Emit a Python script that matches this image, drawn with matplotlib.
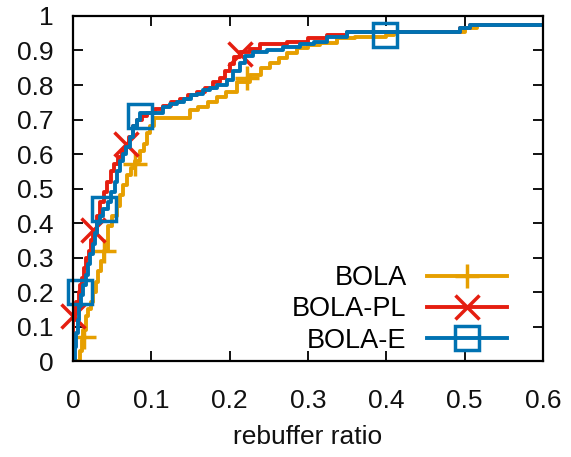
import matplotlib.pyplot as plt
from matplotlib.lines import Line2D

plt.rcParams['font.family'] = ['Liberation Sans', 'DejaVu Sans']

# CDF step breakpoints
bola_x = [0.006, 0.009, 0.011, 0.013, 0.016, 0.019, 0.023, 0.026, 0.029, 0.032, 0.036, 0.040,
          0.045, 0.050, 0.056, 0.060, 0.064, 0.069, 0.074, 0.079, 0.085, 0.090, 0.094, 0.098,
          0.103, 0.149, 0.160, 0.172, 0.184, 0.195, 0.209, 0.226, 0.240, 0.252, 0.263, 0.273,
          0.286, 0.300, 0.315, 0.337, 0.360, 0.400, 0.410, 0.500, 0.516, 0.600]
bola_y = [0.00, 0.03, 0.06, 0.09, 0.13, 0.15, 0.17, 0.20, 0.23, 0.26, 0.29, 0.32,
          0.39, 0.42, 0.45, 0.48, 0.51, 0.54, 0.56, 0.58, 0.61, 0.63, 0.66, 0.68,
          0.705, 0.727, 0.735, 0.75, 0.766, 0.78, 0.81, 0.83, 0.85, 0.864, 0.878, 0.892,
          0.906, 0.915, 0.923, 0.935, 0.94, 0.945, 0.955, 0.965, 0.975, 0.975]

pl_x = [0.000, 0.000, 0.002, 0.004, 0.007, 0.009, 0.011, 0.014, 0.017, 0.020, 0.023, 0.026,
        0.030, 0.034, 0.039, 0.043, 0.048, 0.052, 0.057, 0.062, 0.068, 0.072, 0.077, 0.081,
        0.088, 0.094, 0.105, 0.115, 0.125, 0.137, 0.147, 0.158, 0.168, 0.179, 0.188, 0.194,
        0.200, 0.206, 0.213, 0.226, 0.239, 0.273, 0.300, 0.324, 0.350, 0.494, 0.507, 0.600]
pl_y = [0.00, 0.12, 0.15, 0.17, 0.20, 0.22, 0.24, 0.27, 0.30, 0.32, 0.35, 0.38,
        0.42, 0.46, 0.49, 0.52, 0.55, 0.57, 0.59, 0.61, 0.63, 0.65, 0.68, 0.70,
        0.71, 0.72, 0.73, 0.74, 0.75, 0.76, 0.77, 0.78, 0.79, 0.81, 0.82, 0.84,
        0.86, 0.88, 0.895, 0.905, 0.92, 0.925, 0.935, 0.945, 0.955, 0.965, 0.975, 0.975]

e_x = [0.000, 0.002, 0.004, 0.006, 0.008, 0.010, 0.013, 0.016, 0.019, 0.022, 0.025, 0.028,
       0.031, 0.034, 0.038, 0.044, 0.049, 0.053, 0.056, 0.060, 0.064, 0.068, 0.073, 0.077,
       0.081, 0.086, 0.115, 0.124, 0.133, 0.141, 0.150, 0.158, 0.166, 0.175, 0.184, 0.196,
       0.204, 0.213, 0.220, 0.230, 0.247, 0.268, 0.290, 0.307, 0.324, 0.350, 0.494, 0.507, 0.600]
e_y = [0.00, 0.04, 0.08, 0.12, 0.16, 0.19, 0.22, 0.25, 0.28, 0.31, 0.34, 0.37,
       0.40, 0.42, 0.44, 0.46, 0.49, 0.52, 0.55, 0.58, 0.60, 0.62, 0.65, 0.68,
       0.70, 0.72, 0.735, 0.745, 0.75, 0.76, 0.77, 0.775, 0.785, 0.79, 0.80, 0.815,
       0.84, 0.865, 0.885, 0.895, 0.90, 0.91, 0.92, 0.925, 0.94, 0.955, 0.965, 0.975, 0.975]

# point markers (every n-th sample, as gnuplot draws them)
bola_mx = [0.014, 0.040, 0.079, 0.222]
bola_my = [0.07, 0.32, 0.57, 0.82]
pl_mx = [0.000, 0.026, 0.068, 0.213]
pl_my = [0.13, 0.38, 0.63, 0.89]
e_mx = [0.009, 0.040, 0.086, 0.398]
e_my = [0.20, 0.44, 0.71, 0.945]

labels = ['BOLA', 'BOLA-PL', 'BOLA-E']
colors = ['#e69f00', '#e51e10', '#0072b2']
markers = ['+', 'x', 's']

fig = plt.figure(figsize=(5.71, 4.57), dpi=100)
ax = fig.add_axes([0.128, 0.21, 0.823, 0.755])

series = [(bola_x, bola_y, bola_mx, bola_my),
          (pl_x, pl_y, pl_mx, pl_my),
          (e_x, e_y, e_mx, e_my)]
handles = []
for (xs, ys, mx, my), c, m in zip(series, colors, markers):
    ax.plot(xs, ys, drawstyle='steps-post', color=c, lw=2.8)
    ax.plot(mx, my, linestyle='none', marker=m, ms=17, mew=2.5, mfc='none',
            mec=c, clip_on=False)
    handles.append(Line2D([], [], color=c, lw=2.8, marker=m, ms=17, mew=2.5,
                          mfc='none', mec=c))

ax.set_xlim(0, 0.6)
ax.set_ylim(0, 1)
xt = [0, 0.1, 0.2, 0.3, 0.4, 0.5, 0.6]
yt = [0, 0.1, 0.2, 0.3, 0.4, 0.5, 0.6, 0.7, 0.8, 0.9, 1]
ax.set_xticks(xt, ['0' if v == 0 else str(v) for v in xt])
ax.set_yticks(yt, ['0' if v == 0 else '1' if v == 1 else str(v) for v in yt])
ax.tick_params(direction='in', length=7.5, width=1.4, top=True, right=True,
               labelsize=19, colors='#111111')
ax.tick_params(axis='x', pad=20)
ax.tick_params(axis='y', pad=14)
for s in ax.spines.values():
    s.set_linewidth(1.6)

ax.set_xlabel('rebuffer ratio', fontsize=19, labelpad=9, color='#111111')

ax.legend(handles, labels, loc='lower right', bbox_to_anchor=(0.975, -0.05),
          frameon=False, markerfirst=False, handlelength=2.96, handletextpad=0.74,
          labelspacing=0.2, fontsize=19.5)

plt.savefig('out.png', dpi=100)
